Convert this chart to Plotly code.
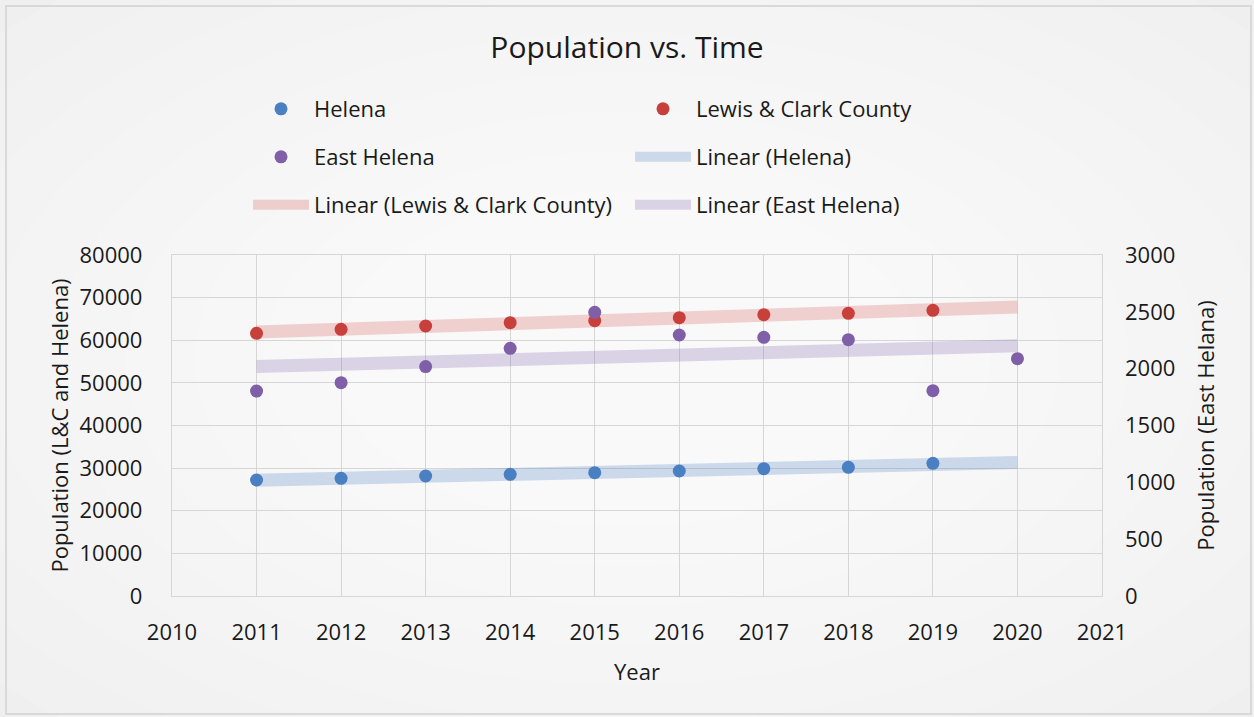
import numpy as np
import plotly.graph_objects as go

# Population by year
years = [2011, 2012, 2013, 2014, 2015, 2016, 2017, 2018, 2019]
years_east = [2011, 2012, 2013, 2014, 2015, 2016, 2017, 2018, 2019, 2020]
helena = [27210, 27610, 28150, 28550, 28930, 29330, 29870, 30190, 31130]
lewis_clark = [61630, 62570, 63340, 64120, 64590, 65290, 66000, 66320, 67030]
east_helena = [1803, 1877, 2018, 2179, 2496, 2296, 2276, 2255, 1806, 2088]
trend_span = [2011, 2020]

x_ticks = list(range(2010, 2022))
y_left_ticks = list(range(0, 80001, 10000))
y_right_ticks = list(range(0, 3001, 500))

BLUE = "#4a7fc1"
RED = "#c8403c"
PURPLE = "#7f5fa8"
FONT = "Open Sans"
TEXT = "#1a1a1a"

W, H = 1254, 717
ML, MR, MT, MB = 172, 152, 255, 121


def linear_fit(xs, ys, span):
    slope, intercept = np.polyfit(xs, ys, 1)
    return [slope * x + intercept for x in span]


fig = go.Figure()

# Linear trendlines (drawn first so the markers sit on top)
trend_specs = [
    ("Linear (Helena)", years, helena, "rgba(74,127,193,0.26)", "y", "legend2", 2),
    ("Linear (Lewis & Clark County)", years, lewis_clark, "rgba(220,110,110,0.30)", "y", "legend3", 1),
    ("Linear (East Helena)", years_east, east_helena, "rgba(140,110,180,0.28)", "y2", "legend3", 2),
]
for name, xs, ys, color, yaxis, legend, rank in trend_specs:
    fig.add_trace(go.Scatter(
        x=trend_span, y=linear_fit(xs, ys, trend_span), name=name, mode="lines",
        line=dict(color=color, width=13), yaxis=yaxis, legend=legend,
        legendrank=rank, hoverinfo="skip",
    ))

marker_specs = [
    ("Helena", years, helena, BLUE, "y", "legend", 1),
    ("Lewis & Clark County", years, lewis_clark, RED, "y", "legend", 2),
    ("East Helena", years_east, east_helena, PURPLE, "y2", "legend2", 1),
]
for name, xs, ys, color, yaxis, legend, rank in marker_specs:
    fig.add_trace(go.Scatter(
        x=xs, y=ys, name=name, mode="markers",
        marker=dict(color=color, size=13), yaxis=yaxis, legend=legend,
        legendrank=rank,
    ))

# Soft radial shading of the chart background
shapes = []
pw, ph = W - ML - MR, H - MT - MB


def px_to_paper_x(px):
    return (px - ML) / pw


def px_to_paper_y(py):
    return (H - MB - py) / ph


for k in range(10):
    f = 1.35 - k * 0.11
    cx, cy = W / 2, H / 2
    rx, ry = W / 2 * f, H / 2 * f
    shapes.append(dict(
        type="circle", xref="paper", yref="paper", layer="below",
        x0=px_to_paper_x(cx - rx), x1=px_to_paper_x(cx + rx),
        y0=px_to_paper_y(cy + ry), y1=px_to_paper_y(cy - ry),
        fillcolor="rgba(255,255,255,0.13)", line=dict(width=0),
    ))
# Chart border
shapes.append(dict(
    type="rect", xref="paper", yref="paper", layer="below",
    x0=px_to_paper_x(6), x1=px_to_paper_x(1251),
    y0=px_to_paper_y(714), y1=px_to_paper_y(6),
    line=dict(color="#d9d9d9", width=2), fillcolor="rgba(0,0,0,0)",
))

legend_common = dict(
    orientation="h", xref="container", yref="container",
    xanchor="left", yanchor="middle", bgcolor="rgba(0,0,0,0)",
    font=dict(family=FONT, size=22, color=TEXT),
    itemwidth=56, entrywidth=311, entrywidthmode="pixels",
    traceorder="normal", itemclick=False,
)

fig.update_layout(
    width=W, height=H, autosize=False,
    margin=dict(l=ML, r=MR, t=MT, b=MB),
    paper_bgcolor="#efefef", plot_bgcolor="rgba(0,0,0,0)",
    font=dict(family=FONT, size=22, color=TEXT),
    title=dict(text="Population vs. Time", x=0.5, xanchor="center",
               y=1 - 47 / H, yanchor="middle",
               font=dict(family=FONT, size=30, color=TEXT)),
    shapes=shapes,
    showlegend=True,
    legend=dict(x=248 / W, y=1 - 109 / H, **legend_common),
    legend2=dict(x=248 / W, y=1 - 157 / H, **legend_common),
    legend3=dict(x=248 / W, y=1 - 205 / H, **legend_common),
    xaxis=dict(
        range=[2010, 2021], tickvals=x_ticks, ticktext=[str(v) for v in x_ticks],
        showgrid=True, gridcolor="#d6d6d6", gridwidth=1.3,
        showline=True, linecolor="#d6d6d6", linewidth=1.3, mirror=True,
        zeroline=False, ticks="", ticklabelstandoff=16,
        title=dict(text="Year", standoff=20, font=dict(family=FONT, size=22, color=TEXT)),
    ),
    yaxis=dict(
        range=[0, 80000], tickvals=y_left_ticks, ticktext=[str(v) for v in y_left_ticks],
        showgrid=True, gridcolor="#d6d6d6", gridwidth=1.3,
        showline=True, linecolor="#d6d6d6", linewidth=1.3, mirror=True,
        zeroline=False, ticks="", ticklabelstandoff=24,
        title=dict(text="Population (L&C and Helena)", standoff=4,
                   font=dict(family=FONT, size=22, color=TEXT)),
    ),
    yaxis2=dict(
        range=[0, 3000], tickvals=y_right_ticks, ticktext=[str(v) for v in y_right_ticks],
        overlaying="y", side="right", showgrid=False, zeroline=False,
        showline=False, ticks="", ticklabelstandoff=22,
        title=dict(text="Population (East Helana)", standoff=24,
                   font=dict(family=FONT, size=22, color=TEXT)),
    ),
)

fig.write_html("out.html")
